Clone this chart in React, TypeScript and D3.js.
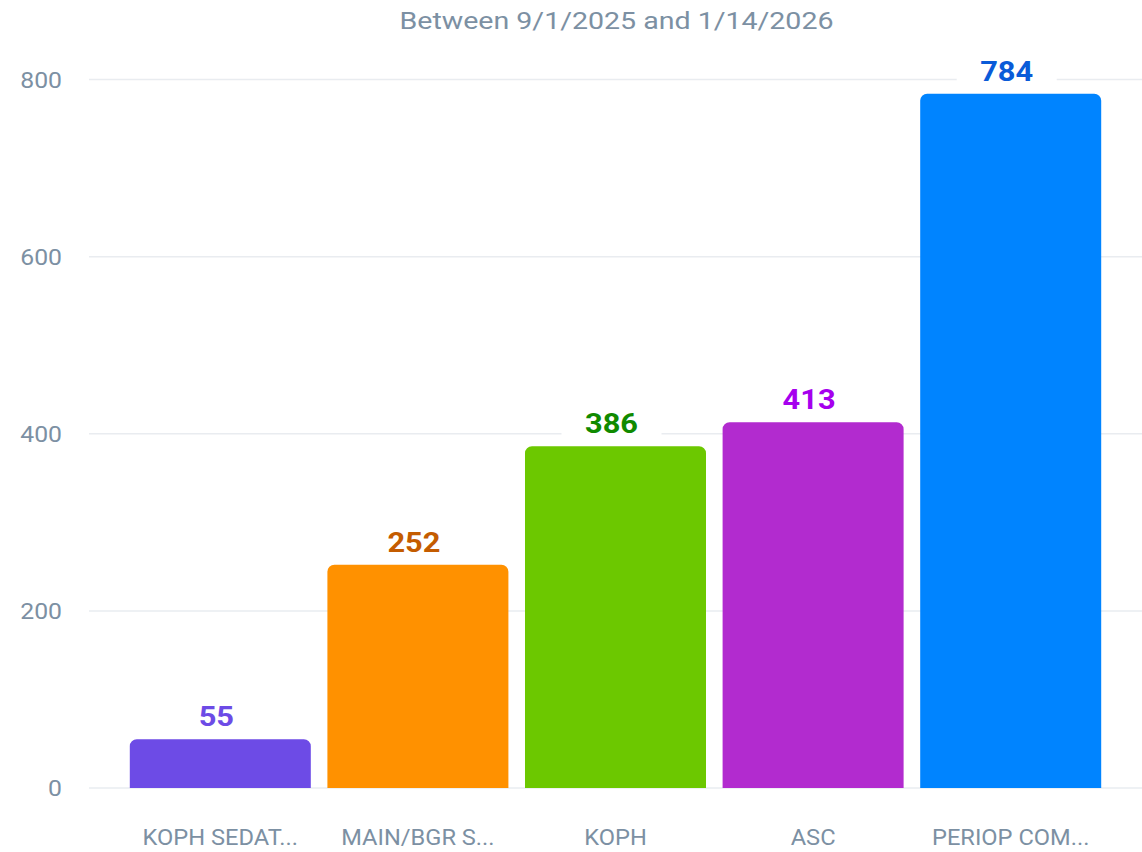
import React from "react";
import * as d3 from "d3";

const categories = ["KOPH SEDAT...", "MAIN/BGR S...", "KOPH", "ASC", "PERIOP COM..."];
const values = [55, 252, 386, 413, 784];
const barColors = ["#6d4be6", "#ff9100", "#6cc800", "#b22bcf", "#0084ff"];
const labelColors = ["#6d4be6", "#c45c00", "#108a00", "#a600ee", "#0a5bd8"];
const yTicks = [0, 200, 400, 600, 800];
const title = "Between 9/1/2025 and 1/14/2026";

const W = 1142;
const H = 852;
const gridLeft = 89;
const gridRight = 1142;

function roundedTopBar(x: number, y: number, w: number, h: number, r: number) {
  const rr = Math.min(r, h, w / 2);
  const p = d3.path();
  p.moveTo(x, y + h);
  p.lineTo(x, y + rr);
  p.arcTo(x, y, x + rr, y, rr);
  p.lineTo(x + w - rr, y);
  p.arcTo(x + w, y, x + w, y + rr, rr);
  p.lineTo(x + w, y + h);
  p.closePath();
  return p.toString();
}

export default function App() {
  const x = d3.scaleBand<string>().domain(categories).range([121.5, 1109.5]).paddingInner(0.084).paddingOuter(0.042);
  const y = d3.scaleLinear().domain([0, 800]).range([788, 79.5]);
  const font = "Roboto, 'Noto Sans', sans-serif";
  const axisColor = "#7c90a3";
  const sx = 1.1;

  return (
    <svg width={W} height={H} style={{ position: "absolute", left: 0, top: 0, background: "#fff" }} fontFamily={font}>
      <text transform={`translate(${(gridLeft + gridRight) / 2 + 1},29) scale(1.19,1)`} textAnchor="middle" fontSize={24} fill={axisColor}>
        {title}
      </text>
      {yTicks.map((t) => (
        <g key={t}>
          <line x1={gridLeft} x2={gridRight} y1={y(t)} y2={y(t)} stroke="#e9ecf0" strokeWidth={1.5} />
          <text transform={`translate(62,${y(t) + 8}) scale(${sx},1)`} textAnchor="end" fontSize={22.5} fill={axisColor}>
            {t}
          </text>
        </g>
      ))}
      {categories.map((c, i) => {
        const bx = x(c)!;
        const bw = x.bandwidth();
        const top = y(values[i]);
        const cx = bx + bw / 2;
        return (
          <g key={c}>
            <path d={roundedTopBar(bx, top, bw, y(0) - top, 7)} fill={barColors[i]} />
            <rect x={cx - 54} y={top - 40} width={100} height={34} fill="#fff" />
            <text transform={`translate(${cx - 4},${top - 13}) scale(${sx},1)`} textAnchor="middle" fontSize={28} fontWeight={700} fill={labelColors[i]}>
              {values[i]}
            </text>
            <text transform={`translate(${cx},845) scale(${sx},1)`} textAnchor="middle" fontSize={21.5} fill={axisColor}>
              {c}
            </text>
          </g>
        );
      })}
    </svg>
  );
}
